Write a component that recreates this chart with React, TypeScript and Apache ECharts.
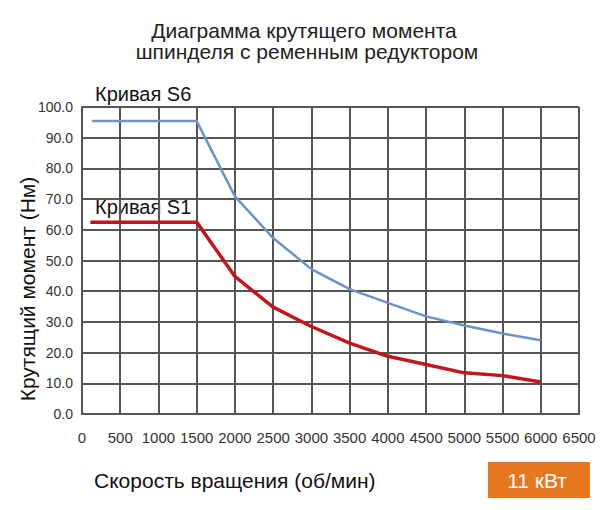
import React, { useEffect, useRef } from "react";
import * as echarts from "echarts";

const s6Speed = [130, 1500, 2000, 2500, 3000, 3500, 4000, 4500, 5000, 5500, 6000];
const s6Torque = [95.4, 95.4, 70.9, 57.3, 47.2, 40.7, 36.2, 31.8, 28.8, 26.2, 24.0];
const s1Speed = [110, 1500, 2000, 2500, 3000, 3500, 4000, 4500, 5000, 5500, 6000];
const s1Torque = [62.5, 62.5, 44.8, 34.8, 28.5, 23.1, 18.8, 16.1, 13.4, 12.5, 10.4];

const titleLines = ["Диаграмма крутящего момента", "шпинделя с ременным редуктором"];
const xName = "Скорость вращения (об/мин)";
const yName = "Крутящий момент (Нм)";
const s6Label = "Кривая S6";
const s1Label = "Кривая S1";
const powerLabel = "11 кВт";

const FONT = "'Liberation Sans', Arial, sans-serif";
const TICK_FONT = "'Liberation Sans Narrow', 'Arial Narrow', 'Liberation Sans', sans-serif";

export default function App() {
  const ref = useRef<HTMLDivElement>(null);
  useEffect(() => {
    if (!ref.current) return;
    const chart = echarts.init(ref.current, undefined, { renderer: "svg" });
    const pair = (xs: number[], ys: number[]) => xs.map((x, i) => [x, ys[i]]);
    chart.setOption({
      animation: false,
      backgroundColor: "#ffffff",
      grid: { left: 82, right: 21, top: 107, bottom: 96 },
      xAxis: {
        type: "value",
        min: 0,
        max: 6500,
        interval: 500,
        axisLine: { show: true, lineStyle: { color: "#555", width: 2 } },
        axisTick: { show: false },
        splitLine: { show: true, lineStyle: { color: "#555", width: 2 } },
        axisLabel: {
          margin: 16,
          fontFamily: TICK_FONT,
          fontSize: 15,
          color: "#333",
          formatter: (v: number) => String(v),
        },
      },
      yAxis: {
        type: "value",
        min: 0,
        max: 100,
        interval: 10,
        axisLine: { show: true, lineStyle: { color: "#555", width: 2 } },
        axisTick: { show: false },
        splitLine: { show: true, lineStyle: { color: "#555", width: 2 } },
        axisLabel: {
          margin: 9,
          fontFamily: TICK_FONT,
          fontSize: 14,
          color: "#333",
          formatter: (v: number) => v.toFixed(1),
        },
      },
      series: [
        {
          type: "line",
          data: pair(s6Speed, s6Torque),
          showSymbol: false,
          smooth: false,
          lineStyle: { color: "#6b93c9", width: 2.5 },
          z: 3,
        },
        {
          type: "line",
          data: pair(s1Speed, s1Torque),
          showSymbol: false,
          smooth: false,
          lineStyle: { color: "#c0161c", width: 3.5 },
          z: 4,
        },
      ],
      graphic: [
        {
          type: "text",
          x: 304,
          y: 30,
          style: {
            text: titleLines[0],
            fontFamily: FONT,
            fontSize: 21,
            fill: "#222",
            align: "center",
            verticalAlign: "middle",
          },
        },
        {
          type: "text",
          x: 307,
          y: 51,
          style: {
            text: titleLines[1],
            fontFamily: FONT,
            fontSize: 21,
            fill: "#222",
            align: "center",
            verticalAlign: "middle",
          },
        },
        {
          type: "text",
          left: 95,
          top: 84,
          style: { text: s6Label, fontFamily: FONT, fontSize: 20, fill: "#111" },
        },
        {
          type: "text",
          left: 95,
          top: 197,
          style: { text: s1Label, fontFamily: FONT, fontSize: 20, fill: "#111" },
        },
        {
          type: "text",
          x: 27,
          y: 289,
          rotation: Math.PI / 2,
          style: {
            text: yName,
            fontFamily: FONT,
            fontSize: 21,
            fill: "#111",
            align: "center",
            verticalAlign: "middle",
          },
        },
        {
          type: "text",
          x: 94,
          y: 480,
          style: {
            text: xName,
            fontFamily: FONT,
            fontSize: 21,
            fill: "#111",
            verticalAlign: "middle",
          },
        },
        {
          type: "rect",
          shape: { x: 488, y: 462, width: 102, height: 36 },
          style: { fill: "#e8781f" },
        },
        {
          type: "text",
          x: 537,
          y: 480,
          style: {
            text: powerLabel,
            fontFamily: FONT,
            fontSize: 21,
            fill: "#ffffff",
            align: "center",
            verticalAlign: "middle",
          },
        },
      ],
    });
    return () => chart.dispose();
  }, []);
  return <div ref={ref} style={{ width: 600, height: 510, position: "absolute", left: 0, top: 0 }} />;
}
